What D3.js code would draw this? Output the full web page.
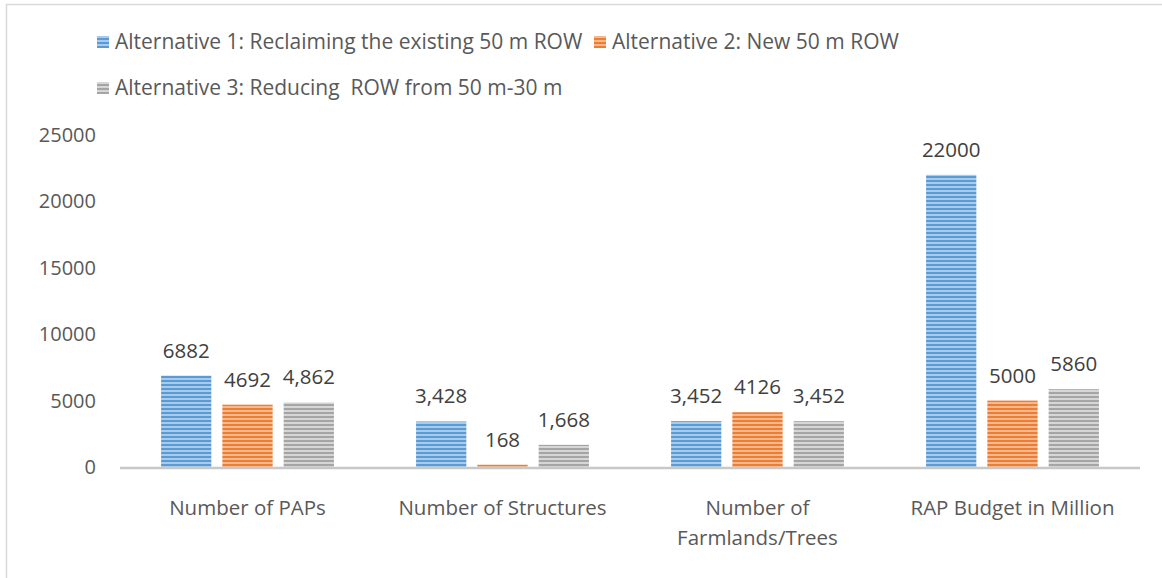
<!DOCTYPE html>
<html>
<head>
<meta charset="utf-8">
<script src="https://cdnjs.cloudflare.com/ajax/libs/d3/7.8.5/d3.min.js"></script>
<style>
  body { margin: 0; background: #fff; }
  svg { display: block; }
</style>
</head>
<body>
<div id="chart"></div>
<script>
'use strict';

const categories = ['Number of PAPs', 'Number of Structures', 'Number of Farmlands/Trees', 'RAP Budget in Million'];
const seriesNames = [
  'Alternative 1: Reclaiming the existing 50 m ROW',
  'Alternative 2: New 50 m ROW',
  'Alternative 3: Reducing  ROW from 50 m-30 m'
];
const alt1 = [6882, 3428, 3452, 22000];
const alt2 = [4692, 168, 4126, 5000];
const alt3 = [4862, 1668, 3452, 5860];
const labels1 = ['6882', '3,428', '3,452', '22000'];
const labels2 = ['4692', '168', '4126', '5000'];
const labels3 = ['4,862', '1,668', '3,452', '5860'];
const yTicks = [0, 5000, 10000, 15000, 20000, 25000];

const W = 1162, H = 578;
const font = '"Open Sans", "Noto Sans", Arial, sans-serif';
const textColor = '#595959';

const svg = d3.select('#chart').append('svg')
  .attr('width', W)
  .attr('height', H);

// stripe patterns, dark/light pairs
const stripes = [
  { id: 'p1', dark: '#5b9bd5', light: '#a9cbeb' },
  { id: 'p2', dark: '#ed7d31', light: '#f6b88f' },
  { id: 'p3', dark: '#a5a5a5', light: '#d6d6d6' }
];
const defs = svg.append('defs');
stripes.forEach(function(s) {
  let p = defs.append('pattern')
    .attr('id', s.id)
    .attr('patternUnits', 'userSpaceOnUse')
    .attr('width', 8)
    .attr('height', 4);
  p.append('rect').attr('width', 8).attr('height', 4).attr('fill', s.light);
  p.append('rect').attr('width', 8).attr('height', 2).attr('fill', s.dark);
});

// chart border
svg.append('rect')
  .attr('x', 6.5).attr('y', 4.5)
  .attr('width', W + 10).attr('height', H + 10)
  .attr('fill', 'none')
  .attr('stroke', '#d9d9d9')
  .attr('stroke-width', 1.5);

const margin = { left: 120, right: 22, top: 135, bottom: 111 };

const x = d3.scaleBand()
  .domain(categories)
  .range([margin.left, W - margin.right]);

const x1 = d3.scaleBand()
  .domain([0, 1, 2])
  .range([0, x.bandwidth()])
  .paddingInner(0.18)
  .paddingOuter(0.67);

const y = d3.scaleLinear()
  .domain([0, 25000])
  .range([H - margin.bottom, margin.top]);

// y axis labels
const yAxis = d3.axisLeft(y)
  .tickValues(yTicks)
  .tickFormat(d3.format('d'))
  .tickSize(0)
  .tickPadding(0);
const gy = svg.append('g')
  .attr('transform', 'translate(96,0)')
  .call(yAxis);
gy.select('.domain').remove();
gy.selectAll('text')
  .attr('font-family', font)
  .attr('font-size', '20px')
  .attr('fill', textColor);

const series = [alt1, alt2, alt3];
const labelSets = [labels1, labels2, labels3];

series.forEach(function(vals, si) {
  let g = svg.append('g');
  g.selectAll('rect')
    .data(vals)
    .enter().append('rect')
    .attr('x', (d, i) => x(categories[i]) + x1(si))
    .attr('y', d => y(d))
    .attr('width', x1.bandwidth())
    .attr('height', d => y(0) - y(d))
    .attr('fill', 'url(#' + stripes[si].id + ')');

  g.selectAll('text')
    .data(vals)
    .enter().append('text')
    .attr('x', (d, i) => x(categories[i]) + x1(si) + x1.bandwidth() / 2)
    .attr('y', d => y(d) - 18)
    .attr('text-anchor', 'middle')
    .attr('font-family', font)
    .attr('font-size', '20.5px')
    .attr('fill', '#404040')
    .text((d, i) => labelSets[si][i]);
});

// baseline
svg.append('line')
  .attr('x1', margin.left).attr('x2', W - margin.right)
  .attr('y1', y(0) + 1).attr('y2', y(0) + 1)
  .attr('stroke', '#c8c8c8')
  .attr('stroke-width', 2.5);

// category labels, wrapped to two lines if wide
const catLines = {
  'Number of Farmlands/Trees': ['Number of', 'Farmlands/Trees']
};
categories.forEach(function(c) {
  let lines = catLines[c] || [c];
  let t = svg.append('text')
    .attr('text-anchor', 'middle')
    .attr('font-family', font)
    .attr('font-size', '20.5px')
    .attr('fill', textColor);
  lines.forEach(function(l, li) {
    t.append('tspan')
      .attr('x', x(c) + x.bandwidth() / 2)
      .attr('y', 515 + li * 30)
      .text(l);
  });
});

// legend
const legendPos = [
  { x: 97, y: 42 },
  { x: 594, y: 42 },
  { x: 97, y: 88 }
];
seriesNames.forEach(function(name, i) {
  let lg = svg.append('g')
    .attr('transform', 'translate(' + legendPos[i].x + ',' + legendPos[i].y + ')');
  lg.append('rect')
    .attr('x', 0).attr('y', -6)
    .attr('width', 12).attr('height', 12)
    .attr('fill', 'url(#' + stripes[i].id + ')');
  lg.append('text')
    .attr('x', 18).attr('y', 7)
    .attr('font-family', font)
    .attr('font-size', '21px')
    .attr('fill', textColor)
    .style('white-space', 'pre')
    .text(name);
});
</script>
</body>
</html>
